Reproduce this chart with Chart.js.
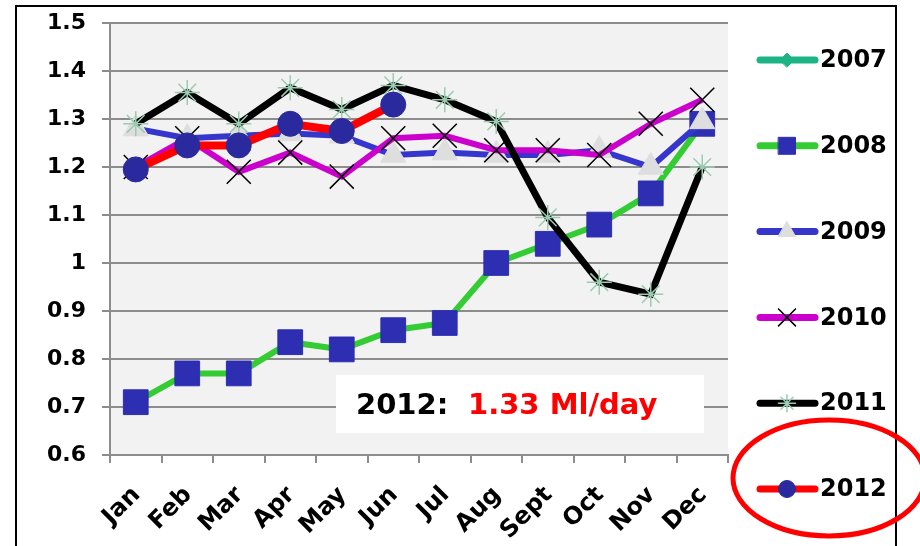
<!DOCTYPE html>
<html>
<head>
<meta charset="utf-8">
<script src="https://cdn.jsdelivr.net/npm/chart.js@4/dist/chart.umd.min.js"></script>
<style>
  body { margin: 0; background: #fff; }
  #wrap { width: 920px; height: 546px; }
</style>
</head>
<body>
<div id="wrap"><canvas id="my_chart" width="920" height="546"></canvas></div>
<script>
const months = ['Jan', 'Feb', 'Mar', 'Apr', 'May', 'Jun', 'Jul', 'Aug', 'Sept', 'Oct', 'Nov', 'Dec'];
const yTicks = [0.6, 0.7, 0.8, 0.9, 1, 1.1, 1.2, 1.3, 1.4, 1.5];

const years = ['2007', '2008', '2009', '2010', '2011', '2012'];
const y2007 = [null, null, null, null, null, null, null, null, null, null, null, null];
const y2008 = [0.71, 0.77, 0.77, 0.835, 0.82, 0.86, 0.875, 1.0, 1.04, 1.08, 1.145, 1.29];
const y2009 = [1.28, 1.26, 1.265, 1.27, 1.265, 1.225, 1.23, 1.225, 1.225, 1.235, 1.2, 1.295];
const y2010 = [1.2, 1.26, 1.19, 1.23, 1.18, 1.26, 1.265, 1.235, 1.235, 1.225, 1.29, 1.34];
const y2011 = [1.29, 1.355, 1.29, 1.365, 1.32, 1.37, 1.34, 1.295, 1.095, 0.96, 0.935, 1.2];
const y2012 = [1.195, 1.245, 1.245, 1.29, 1.275, 1.33, null, null, null, null, null, null];

const noteLabel = '2012:';
const noteValue = '1.33 Ml/day';

const FONT = '"DejaVu Sans", Verdana, sans-serif';
const ctx = document.getElementById('my_chart');

// style per series: line colour, marker, marker fill, marker outline
const styles = [
  { line: '#1cb386', width: 6, shape: 'rectRot', fill: '#1cb386', edge: '#1cb386', r: 10, lr: 7, bw: 1 },
  { line: '#33cc33', width: 6, shape: 'rect', fill: '#2e2eb3', edge: '#2e2eb3', r: 17.5, lr: 12, bw: 1 },
  { line: '#3636cc', width: 6, shape: 'triangle', fill: '#dedede', edge: '#dedede', r: 14.5, lr: 10, bw: 1 },
  { line: '#cc00cc', width: 6, shape: 'crossRot', fill: '#000000', edge: '#000000', r: 17, lr: 12, bw: 1.5 },
  { line: '#000000', width: 7, shape: 'star', fill: '#99ccb0', edge: '#99ccb0', r: 12.5, lr: 8.5, bw: 1.5 },
  { line: '#ff0000', width: 8, shape: 'circle', fill: '#2a2a9e', edge: '#2a2a9e', r: 12.5, lr: 8.5, bw: 1 }
];
const series = [y2007, y2008, y2009, y2010, y2011, y2012];

const datasets = years.map((yr, i) => ({
  label: yr,
  data: series[i],
  borderColor: styles[i].line,
  borderWidth: styles[i].width,
  pointStyle: styles[i].shape,
  pointRadius: styles[i].r,
  pointBackgroundColor: styles[i].fill,
  pointBorderColor: styles[i].edge,
  pointBorderWidth: styles[i].bw,
  tension: 0,
  spanGaps: false,
  order: years.length - i
}));

function drawMarker(c, st, x, y, r) {
  c.save();
  c.fillStyle = st.fill;
  c.strokeStyle = st.edge;
  c.lineWidth = st.bw;
  Chart.helpers.drawPoint(c, { pointStyle: st.shape, rotation: 0, radius: r, borderWidth: st.bw }, x, y);
  c.restore();
}

const decor = {
  id: 'decor',
  beforeDraw(chart) {
    const a = chart.chartArea;
    const c = chart.ctx;
    c.save();
    c.fillStyle = '#f2f2f2';
    c.fillRect(a.left, a.top, a.right - a.left, a.bottom - a.top);
    c.restore();
  },
  afterDraw(chart) {
    const c = chart.ctx;
    c.save();
    // outer frame
    c.strokeStyle = '#000';
    c.lineWidth = 2;
    c.beginPath();
    c.moveTo(16, 546);
    c.lineTo(16, 6);
    c.lineTo(896, 6);
    c.lineTo(896, 546);
    c.stroke();

    // legend
    chart.data.datasets.forEach((ds, i) => {
      const st = styles[i];
      const y = 60 + i * 85.8;
      c.strokeStyle = st.line;
      c.lineWidth = 7;
      c.lineCap = 'round';
      c.beginPath();
      c.moveTo(760, y);
      c.lineTo(815, y);
      c.stroke();
      drawMarker(c, st, 787, y, st.lr);
      c.fillStyle = '#000';
      c.font = 'bold 24px ' + FONT;
      c.textBaseline = 'middle';
      c.textAlign = 'left';
      c.fillText(ds.label, 820, y + 1);
    });

    // note box
    c.fillStyle = '#fff';
    c.fillRect(336, 375, 368, 58);
    c.font = 'bold 29px ' + FONT;
    c.textBaseline = 'middle';
    c.fillStyle = '#000';
    c.fillText(noteLabel, 356, 406);
    c.fillStyle = '#ff0000';
    c.fillText(noteValue, 468, 406);

    // red ring round the 2012 legend entry
    c.strokeStyle = '#ff0000';
    c.lineWidth = 5;
    c.beginPath();
    c.ellipse(829, 478, 96, 58, 0, 0, Math.PI * 2);
    c.stroke();
    c.restore();
  }
};

var myChart = new Chart(ctx, {
  type: 'line',
  data: { labels: months, datasets: datasets },
  plugins: [decor],
  options: {
    responsive: false,
    animation: false,
    layout: { padding: { left: 0, top: 23, right: 192, bottom: 0 } },
    scales: {
      x: {
        offset: true,
        afterFit: (s) => { s.height = 91; s.paddingLeft = 0; s.paddingRight = 0; },
        grid: { offset: true, drawOnChartArea: false, drawTicks: true, tickLength: 8, color: '#8c8c8c', lineWidth: 2 },
        border: { color: '#8c8c8c', width: 2 },
        ticks: {
          color: '#000',
          font: { family: FONT, size: 24, weight: 'bold' },
          minRotation: 45,
          maxRotation: 45,
          padding: 18,
          labelOffset: 1,
          autoSkip: false
        }
      },
      y: {
        min: 0.6,
        max: 1.5,
        afterFit: (s) => { s.width = 110; s.paddingTop = 0; s.paddingBottom = 0; },
        afterBuildTicks: (s) => { s.ticks = yTicks.map(v => ({ value: v })); },
        grid: { color: '#8c8c8c', lineWidth: 2, tickLength: 8 },
        border: { color: '#8c8c8c', width: 2 },
        ticks: {
          color: '#000',
          font: { family: FONT, size: 22, weight: 'bold' },
          padding: 16,
          callback: (v) => String(+v.toFixed(1))
        }
      }
    },
    plugins: {
      legend: { display: false },
      tooltip: { enabled: false }
    }
  }
});
</script>
</body>
</html>
